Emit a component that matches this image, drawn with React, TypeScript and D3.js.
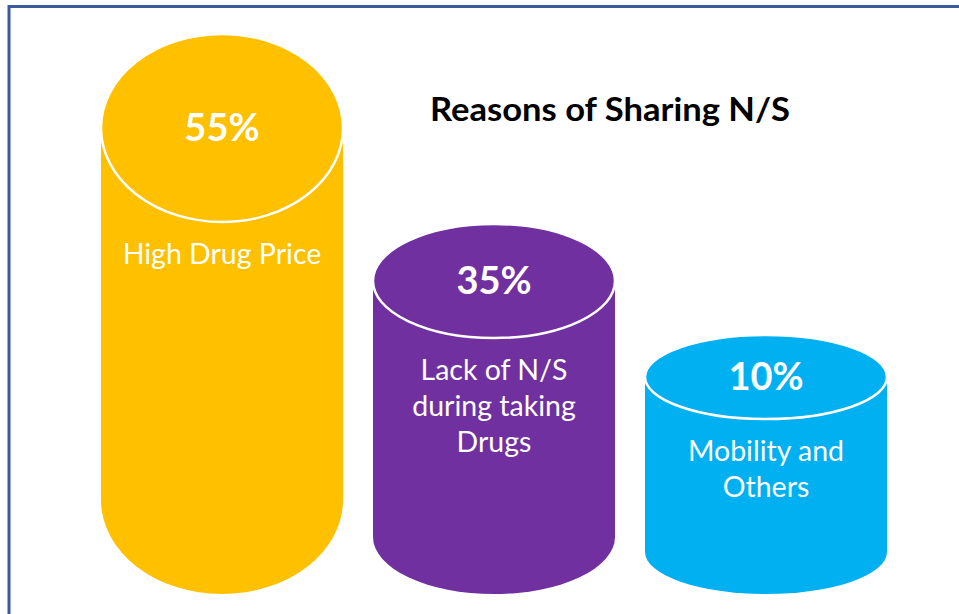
import React from 'react';
import * as d3 from 'd3';

const categories = ['High Drug Price', 'Lack of N/S during taking Drugs', 'Mobility and Others'];
const values = [55, 35, 10];
const labelLines = [['High Drug Price'], ['Lack of N/S', 'during taking', 'Drugs'], ['Mobility and', 'Others']];
const colors = ['#FFC000', '#7030A0', '#00B0F0'];
const title = 'Reasons of Sharing N/S';

const W = 959;
const H = 614;
const FONT = 'Lato, "Open Sans", sans-serif';

export default function App() {
  const x = d3.scaleBand<string>().domain(categories).range([101, 887]).paddingInner(0.1103).paddingOuter(0);
  // infographic: cylinder top (centre of top ellipse) per value
  const yTop = d3.scaleLinear().domain([10, 35, 55]).range([377, 281, 128]);
  const ry = d3.scaleLinear().domain([10, 35, 55]).range([42, 57, 94]);
  const base = 594;

  return (
    <svg width={W} height={H} style={{ position: 'absolute', left: 0, top: 0 }} fontFamily={FONT}>
      <rect x={0} y={0} width={W} height={H} fill="#fff" />
      <rect x={9} y={6.5} width={1100} height={800} fill="none" stroke="#3A5C9C" strokeWidth={3} />
      <text x={610} y={121} textAnchor="middle" fontSize={32} fontWeight={700} fill="#000"
        textLength={360} lengthAdjust="spacingAndGlyphs">{title}</text>
      {categories.map((c, i) => {
        const v = values[i];
        const left = x(c)!;
        const bw = x.bandwidth();
        const rx = bw / 2;
        const cx = left + rx;
        const r = ry(v);
        const cyT = yTop(v);
        const cyB = base - r;
        const body = `M${left},${cyT} L${left},${cyB} A${rx},${r} 0 0 0 ${left + bw},${cyB} L${left + bw},${cyT} Z`;
        return (
          <g key={c}>
            <path d={body} fill={colors[i]} />
            <ellipse cx={cx} cy={cyT} rx={rx} ry={r} fill={colors[i]} stroke="#fff" strokeWidth={2.5} />
            <text x={cx} y={cyT + 13} textAnchor="middle" fontSize={38} fontWeight={700} fill="#fff">{v}%</text>
            {labelLines[i].map((ln, j) => (
              <text key={j} x={cx} y={cyT + r + 42 + j * 36} textAnchor="middle" fontSize={28.5} fill="#fff">{ln}</text>
            ))}
          </g>
        );
      })}
    </svg>
  );
}
